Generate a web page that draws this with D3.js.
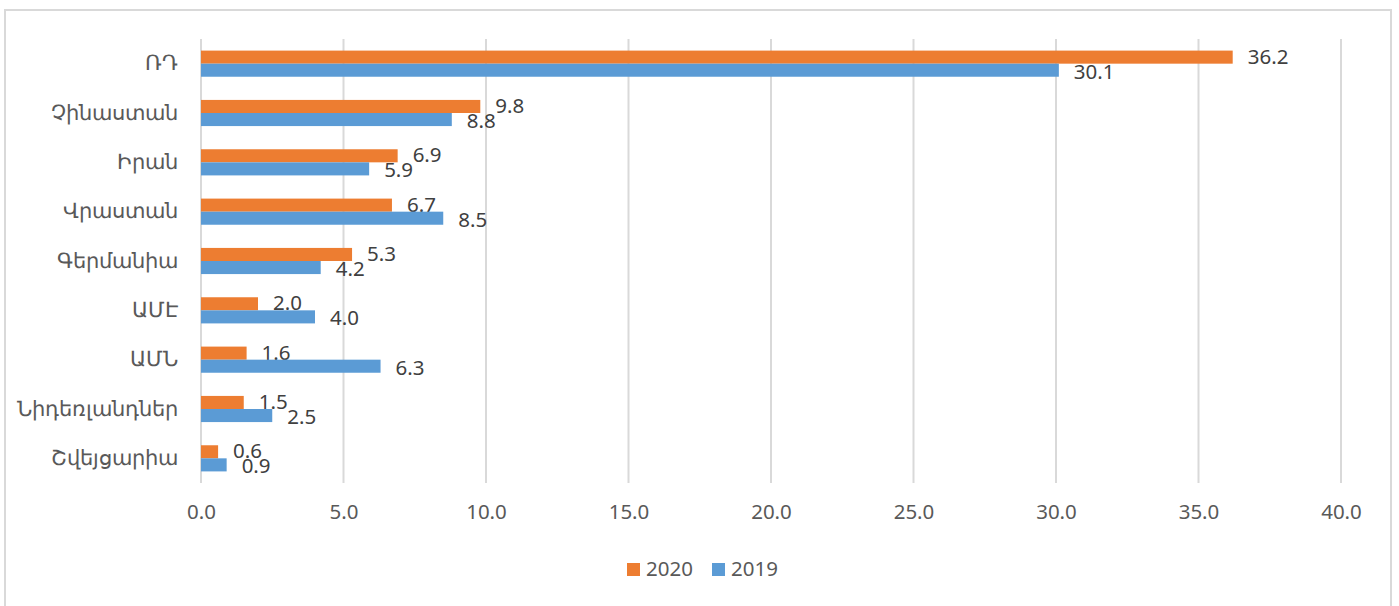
<!DOCTYPE html>
<html>
<head>
<meta charset="utf-8">
<script src="https://cdn.jsdelivr.net/npm/d3@7"></script>
<style>
  html, body { margin: 0; padding: 0; background: #fff; }
  svg { display: block; font-family: "Noto Sans", "DejaVu Sans", sans-serif; }
</style>
</head>
<body>
<svg id="chart" width="1399" height="606"></svg>
<script>
// Countries, top to bottom
const categories = ["ՌԴ", "Չինաստան", "Իրան", "Վրաստան", "Գերմանիա", "ԱՄԷ", "ԱՄՆ", "Նիդեռլանդներ", "Շվեյցարիա"];
// Share by year (%)
const values2020 = [36.2, 9.8, 6.9, 6.7, 5.3, 2.0, 1.6, 1.5, 0.6];
const values2019 = [30.1, 8.8, 5.9, 8.5, 4.2, 4.0, 6.3, 2.5, 0.9];
const seriesNames = ["2020", "2019"];
const xTicks = [0, 5, 10, 15, 20, 25, 30, 35, 40];

const colors = { "2020": "#ED7D31", "2019": "#5B9BD5" };
const series = [
  { name: "2020", values: values2020 },
  { name: "2019", values: values2019 }
];

const svg = d3.select("#chart");

// outer frame
svg.append("rect")
  .attr("x", 5).attr("y", 10)
  .attr("width", 1386).attr("height", 620)
  .attr("fill", "#fff")
  .attr("stroke", "#D9D9D9")
  .attr("stroke-width", 2);

const plot = { left: 201, right: 1341, top: 39, bottom: 483 };

const x = d3.scaleLinear().domain([0, 40]).range([plot.left, plot.right]);
const y = d3.scaleBand().domain(categories).range([plot.top, plot.bottom]).paddingInner(0.47).paddingOuter(0.235);
const ySub = d3.scaleBand().domain(seriesNames).range([0, y.bandwidth()]);

// vertical gridlines
svg.append("g")
  .selectAll("line")
  .data(xTicks)
  .join("line")
  .attr("x1", d => x(d)).attr("x2", d => x(d))
  .attr("y1", plot.top).attr("y2", plot.bottom)
  .attr("stroke", "#D9D9D9")
  .attr("stroke-width", 2);

// x tick labels
const xAxis = d3.axisBottom(x).tickValues(xTicks).tickFormat(d3.format(".1f")).tickSize(0).tickPadding(21);
const gx = svg.append("g").attr("transform", `translate(0,${plot.bottom})`).call(xAxis);
gx.select(".domain").remove();
gx.selectAll("text")
  .attr("fill", "#595959")
  .style("font-size", "20.5px")
  .style("font-family", "'Noto Sans', sans-serif");

// category labels
const yAxis = d3.axisLeft(y).tickSize(0).tickPadding(23);
const gy = svg.append("g").attr("transform", `translate(${plot.left},0)`).call(yAxis);
gy.select(".domain").remove();
gy.selectAll("text")
  .attr("fill", "#595959")
  .style("font-size", "20.5px")
  .style("font-family", "'Noto Sans', sans-serif");

// bars and value labels
series.forEach(s => {
  const g = svg.append("g");
  g.selectAll("rect")
    .data(s.values)
    .join("rect")
    .attr("x", x(0))
    .attr("y", (d, i) => y(categories[i]) + ySub(s.name))
    .attr("width", d => x(d) - x(0))
    .attr("height", ySub.bandwidth())
    .attr("fill", colors[s.name]);

  g.selectAll("text")
    .data(s.values)
    .join("text")
    .attr("x", d => x(d) + 15)
    .attr("y", (d, i) => y(categories[i]) + ySub(s.name) + ySub.bandwidth() / 2 + (s.name === "2020" ? 1 : 3))
    .attr("dominant-baseline", "middle")
    .attr("fill", "#404040")
    .style("font-size", "20.5px")
    .text(d => d3.format(".1f")(d));
});

// legend
const legend = svg.append("g").attr("transform", "translate(627,570)");
const legendItems = legend.selectAll("g")
  .data(seriesNames)
  .join("g")
  .attr("transform", (d, i) => `translate(${i * 85},0)`);
legendItems.append("rect")
  .attr("x", 0).attr("y", -7)
  .attr("width", 13).attr("height", 13)
  .attr("fill", d => colors[d]);
legendItems.append("text")
  .attr("x", 19).attr("y", 0)
  .attr("dominant-baseline", "middle")
  .attr("fill", "#595959")
  .style("font-size", "20.5px")
  .text(d => d);
</script>
</body>
</html>
